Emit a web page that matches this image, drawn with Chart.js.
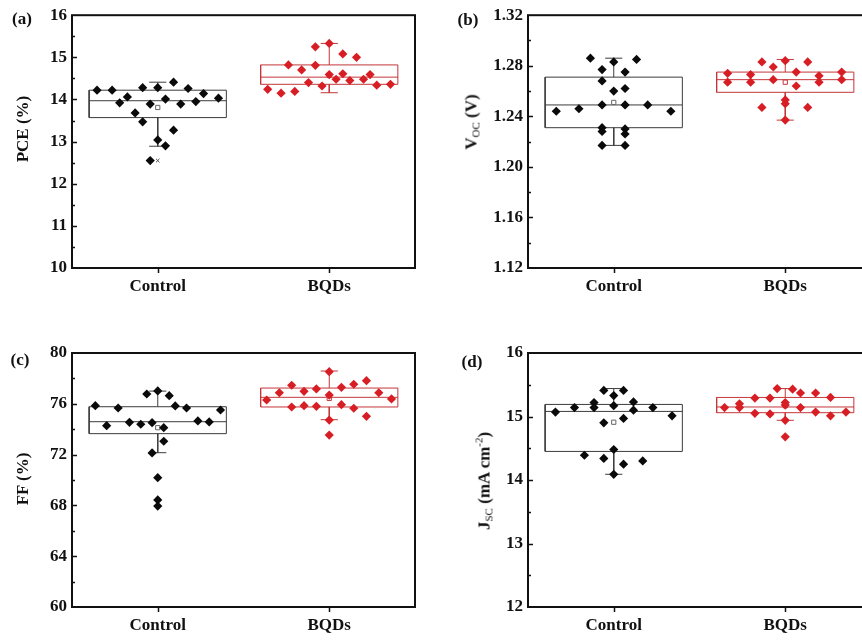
<!DOCTYPE html>
<html>
<head>
<meta charset="utf-8">
<script src="https://cdn.jsdelivr.net/npm/chart.js@4.4.0/dist/chart.umd.min.js"></script>
<style>
  html, body { margin: 0; padding: 0; background: #fff; width: 862px; height: 641px; overflow: hidden; }
  canvas { position: absolute; }
  .t { position: absolute; font: bold 17px "Liberation Serif", "Times New Roman", serif; color: #111;
       white-space: nowrap; line-height: 1; transform: translate(-50%, -50%); }
  .rot { transform: translate(-50%, -50%) rotate(-90deg); }
  .t sub, .t sup { font-size: 11px; font-weight: normal; line-height: 0; position: relative; vertical-align: baseline; }
  .t sub { top: 3px; }
  .t sup { top: -7px; }
</style>
</head>
<body>
<canvas id="pA" width="431" height="320" style="left:0;top:0"></canvas>
<canvas id="pB" width="460" height="320" style="left:431px;top:0"></canvas>
<canvas id="pC" width="431" height="321" style="left:0;top:320px"></canvas>
<canvas id="pD" width="460" height="321" style="left:431px;top:320px"></canvas>

<div class="t" style="left:22px;top:18px">(a)</div>
<div class="t" style="left:468px;top:19px">(b)</div>
<div class="t" style="left:20px;top:359px">(c)</div>
<div class="t" style="left:472px;top:361px">(d)</div>

<div class="t rot" style="left:22px;top:129px">PCE (%)</div>
<div class="t rot" style="left:471px;top:122px">V<sub>OC</sub> (V)</div>
<div class="t rot" style="left:22px;top:479px">FF (%)</div>
<div class="t rot" style="left:484px;top:481px">J<sub>SC</sub> (mA cm<sup>-2</sup>)</div>

<script>
// Device groups on the x axis
const groups = ['Control', 'BQDs'];

// PCE (%)
const pceControl = [14.22, 14.22, 13.92, 14.06, 13.68, 14.28, 13.47, 13.89, 12.55, 14.28, 13.04, 14.01, 12.90, 14.41, 13.27, 13.89, 14.26, 13.95, 14.14, 14.03];
const pceControlJitter = [-0.354, -0.266, -0.222, -0.177, -0.132, -0.088, -0.088, -0.044, -0.044, 0, 0, 0.045, 0.045, 0.092, 0.092, 0.134, 0.177, 0.222, 0.267, 0.354];
const pceBQDs = [14.24, 14.15, 14.19, 14.82, 14.70, 14.40, 15.25, 14.81, 14.32, 15.33, 14.59, 14.48, 15.08, 14.61, 14.45, 15.00, 14.48, 14.59, 14.34, 14.36];
const pceBQDsJitter = [-0.359, -0.281, -0.201, -0.238, -0.161, -0.121, -0.081, -0.081, -0.042, 0, 0, 0.040, 0.079, 0.079, 0.120, 0.159, 0.200, 0.238, 0.277, 0.357];
// box statistics: whisker low, Q1, median, Q3, whisker high, mean
const pceBoxControl = [12.89, 13.57, 13.97, 14.22, 14.41, 13.81];
const pceBoxBQDs = [14.16, 14.36, 14.53, 14.82, 15.33, 14.57];
const pceOutliers = [12.55];

// Voc (V)
const vocControl = [1.244, 1.246, 1.286, 1.277, 1.268, 1.249, 1.231, 1.228, 1.217, 1.283, 1.260, 1.275, 1.262, 1.249, 1.230, 1.226, 1.217, 1.285, 1.249, 1.244];
const vocControlJitter = [-0.335, -0.203, -0.136, -0.068, -0.068, -0.068, -0.068, -0.068, -0.068, 0, 0, 0.066, 0.066, 0.066, 0.066, 0.066, 0.066, 0.133, 0.198, 0.333];
const vocBQDs = [1.274, 1.267, 1.273, 1.267, 1.283, 1.247, 1.279, 1.269, 1.284, 1.253, 1.250, 1.237, 1.275, 1.264, 1.283, 1.247, 1.272, 1.267, 1.275, 1.269];
const vocBQDsJitter = [-0.336, -0.336, -0.202, -0.202, -0.136, -0.136, -0.070, -0.070, 0, 0, 0, 0, 0.064, 0.064, 0.131, 0.131, 0.197, 0.197, 0.329, 0.329];
const vocBoxControl = [1.217, 1.231, 1.249, 1.271, 1.286, 1.251];
const vocBoxBQDs = [1.237, 1.259, 1.269, 1.275, 1.285, 1.267];
const vocOutliers = [];

// FF (%)
const ffControl = [75.85, 74.28, 75.67, 74.54, 74.39, 76.77, 74.51, 72.13, 77.01, 70.18, 68.43, 67.95, 74.12, 73.05, 76.64, 75.83, 75.67, 74.65, 74.57, 75.51];
const ffControlJitter = [-0.364, -0.298, -0.231, -0.165, -0.099, -0.064, -0.033, -0.033, 0, 0, 0, 0, 0.035, 0.035, 0.067, 0.102, 0.168, 0.234, 0.300, 0.366];
const ffBQDs = [76.30, 76.87, 77.46, 75.75, 76.98, 75.85, 77.17, 75.80, 78.53, 76.69, 74.72, 73.54, 77.30, 75.93, 77.54, 75.65, 77.82, 75.01, 76.87, 76.38];
const ffBQDsJitter = [-0.365, -0.291, -0.219, -0.219, -0.147, -0.147, -0.075, -0.075, 0, 0, 0, 0, 0.071, 0.071, 0.143, 0.143, 0.217, 0.217, 0.289, 0.363];
const ffBoxControl = [72.15, 73.65, 74.59, 75.77, 77.00, 74.12];
const ffBoxBQDs = [74.75, 75.75, 76.51, 77.24, 78.58, 76.43];
const ffOutliers = [70.18, 68.43, 67.95];

// Jsc (mA cm-2)
const jscControl = [15.07, 15.14, 14.39, 15.22, 15.14, 15.41, 14.90, 14.34, 15.33, 15.17, 14.48, 14.09, 15.41, 14.97, 14.25, 15.23, 15.10, 14.30, 15.14, 15.01];
const jscControlJitter = [-0.340, -0.229, -0.171, -0.115, -0.115, -0.058, -0.058, -0.058, 0, 0, 0, 0, 0.057, 0.057, 0.057, 0.115, 0.115, 0.169, 0.228, 0.340];
const jscBQDs = [15.14, 15.20, 15.14, 15.29, 15.05, 15.29, 15.04, 15.44, 15.22, 15.18, 14.94, 14.68, 15.43, 15.37, 15.14, 15.37, 15.07, 15.30, 15.01, 15.07];
const jscBQDsJitter = [-0.354, -0.267, -0.267, -0.177, -0.177, -0.089, -0.089, -0.047, 0, 0, 0, 0, 0.043, 0.089, 0.089, 0.177, 0.177, 0.264, 0.264, 0.354];
const jscBoxControl = [14.09, 14.45, 15.08, 15.19, 15.44, 14.91];
const jscBoxBQDs = [14.94, 15.06, 15.15, 15.30, 15.44, 15.17];
const jscOutliers = [];

const FONT = '"Liberation Serif", "Times New Roman", serif';
const BLACK = '#0a0a0a';
const RED = '#d81e25';
const BOX_GREY = '#3c3c3c';
const BOX_RED = '#c4363a';

// Box outline, median, whiskers and caps as one broken polyline
function boxPath(c, s) {
  const w = 0.4, cw = 0.05, gap = { x: c, y: null };
  return [
    { x: c - w, y: s[1] }, { x: c + w, y: s[1] }, { x: c + w, y: s[3] }, { x: c - w, y: s[3] }, { x: c - w, y: s[1] }, gap,
    { x: c - w, y: s[2] }, { x: c + w, y: s[2] }, gap,
    { x: c, y: s[3] }, { x: c, y: s[4] }, gap,
    { x: c - cw, y: s[4] }, { x: c + cw, y: s[4] }, gap,
    { x: c, y: s[1] }, { x: c, y: s[0] }, gap,
    { x: c - cw, y: s[0] }, { x: c + cw, y: s[0] }
  ];
}

function points(c, vals, jit) {
  return vals.map((v, i) => ({ x: c + jit[i], y: v }));
}

// Frame around the plot area, inward y ticks (major + minor), outward category ticks
const framePlugin = {
  id: 'frame',
  afterDatasetsDraw(chart, args, opts) {
    const { ctx, chartArea: a, scales: { x, y } } = chart;
    ctx.save();
    ctx.strokeStyle = '#111';
    ctx.lineWidth = 1.5;
    ctx.beginPath();
    const n = Math.round((y.max - y.min) / opts.minor);
    for (let i = 1; i < n; i++) {
      const py = Math.round(y.getPixelForValue(y.min + i * opts.minor)) + 0.5;
      const len = (i % opts.ratio === 0) ? 5 : 3;
      ctx.moveTo(a.left, py);
      ctx.lineTo(a.left + len, py);
    }
    [1, 2].forEach(v => {
      const px = Math.round(x.getPixelForValue(v)) + 0.5;
      ctx.moveTo(px, a.bottom);
      ctx.lineTo(px, a.bottom + 5);
    });
    ctx.stroke();
    ctx.lineWidth = 2;
    ctx.strokeRect(a.left, a.top, a.right - a.left, a.bottom - a.top);
    ctx.restore();
  }
};

function makePanel(p) {
  const datasets = [
    { data: points(1, p.ctrl, p.ctrlJit), pointStyle: 'rectRot', pointRadius: 4.6, backgroundColor: BLACK, borderWidth: 0 },
    { data: points(2, p.bqd, p.bqdJit), pointStyle: 'rectRot', pointRadius: 4.6, backgroundColor: RED, borderWidth: 0 },
    { data: [{ x: 1, y: p.ctrlBox[5] }], pointStyle: 'rect', pointRadius: 3, backgroundColor: '#fff', borderColor: '#666', borderWidth: 1 },
    { data: [{ x: 2, y: p.bqdBox[5] }], pointStyle: 'rect', pointRadius: 3, backgroundColor: '#fff', borderColor: BOX_RED, borderWidth: 1 },
    { data: p.outliers.map(v => ({ x: 1, y: v })), pointStyle: 'crossRot', pointRadius: 2.5, borderColor: '#555', borderWidth: 1 },
    { data: boxPath(1, p.ctrlBox), showLine: true, pointRadius: 0, borderColor: BOX_GREY, borderWidth: 1, spanGaps: false },
    { data: boxPath(2, p.bqdBox), showLine: true, pointRadius: 0, borderColor: BOX_RED, borderWidth: 1, spanGaps: false }
  ];
  new Chart(document.getElementById(p.id), {
    type: 'scatter',
    data: { datasets },
    plugins: [framePlugin],
    options: {
      responsive: false,
      animation: false,
      devicePixelRatio: 1,
      layout: { padding: { top: p.top, right: p.right, left: 0, bottom: 0 } },
      plugins: { legend: { display: false }, tooltip: { enabled: false }, frame: { minor: p.minor, ratio: p.ratio } },
      scales: {
        x: {
          type: 'linear', min: 0.5, max: 2.5,
          grid: { display: false, drawTicks: false }, border: { display: false },
          afterBuildTicks: s => { s.ticks = [{ value: 1 }, { value: 2 }]; },
          afterFit: s => { s.height = p.xH; },
          ticks: { padding: 8, maxRotation: 0, autoSkip: false, color: '#111',
                   font: { family: FONT, size: 17, weight: 'bold' },
                   callback: v => groups[v - 1] }
        },
        y: {
          min: p.yMin, max: p.yMax,
          grid: { display: false, drawTicks: false }, border: { display: false },
          afterFit: s => { s.width = p.yW; },
          ticks: { stepSize: p.step, padding: 5, color: '#111',
                   font: { family: FONT, size: 17, weight: 'bold' },
                   callback: v => v.toFixed(p.dec) }
        }
      }
    }
  });
}

makePanel({ id: 'pA', top: 15, right: 16, yW: 72, xH: 52, yMin: 10, yMax: 16, step: 1, minor: 0.5, ratio: 2, dec: 0,
  ctrl: pceControl, ctrlJit: pceControlJitter, bqd: pceBQDs, bqdJit: pceBQDsJitter,
  ctrlBox: pceBoxControl, bqdBox: pceBoxBQDs, outliers: pceOutliers });
makePanel({ id: 'pB', top: 15, right: 20, yW: 97, xH: 52, yMin: 1.12, yMax: 1.32, step: 0.04, minor: 0.02, ratio: 2, dec: 2,
  ctrl: vocControl, ctrlJit: vocControlJitter, bqd: vocBQDs, bqdJit: vocBQDsJitter,
  ctrlBox: vocBoxControl, bqdBox: vocBoxBQDs, outliers: vocOutliers });
makePanel({ id: 'pC', top: 33, right: 16, yW: 72, xH: 34, yMin: 60, yMax: 80, step: 4, minor: 2, ratio: 2, dec: 0,
  ctrl: ffControl, ctrlJit: ffControlJitter, bqd: ffBQDs, bqdJit: ffBQDsJitter,
  ctrlBox: ffBoxControl, bqdBox: ffBoxBQDs, outliers: ffOutliers });
makePanel({ id: 'pD', top: 33, right: 20, yW: 97, xH: 34, yMin: 12, yMax: 16, step: 1, minor: 0.5, ratio: 2, dec: 0,
  ctrl: jscControl, ctrlJit: jscControlJitter, bqd: jscBQDs, bqdJit: jscBQDsJitter,
  ctrlBox: jscBoxControl, bqdBox: jscBoxBQDs, outliers: jscOutliers });
</script>
</body>
</html>
